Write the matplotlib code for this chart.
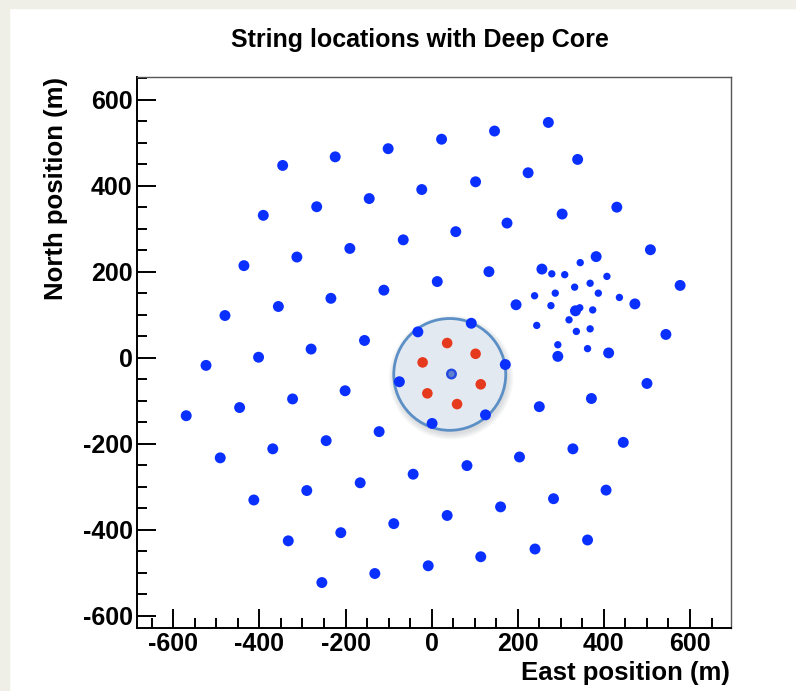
import matplotlib
matplotlib.use("Agg")
import matplotlib.pyplot as plt
from matplotlib.patches import Circle, Rectangle
from matplotlib.ticker import MultipleLocator

# Standard IceCube strings, east / north position in metres
string_x = [-346, -224, -101, -23, -145, -267, -391, -66, -190, -313, -436,
            13, -111, -234, -356, -480, -32, -156, -280, -402, -524,
            23, 146, 271, 339, 224, 102, 303, 430, 175, 56, 508,
            382, 256, 133, 577, 472, 196, 334, 92, 544, 293, 411,
            -570, -446, -323, -201, -75, 1, -491, -369, -245, -122,
            -413, -290, -166, -43, -333, -211, -88, -8, -255, -132,
            171, 125, 500, 371, 250, 445, 328, 204, 82, 405,
            283, 160, 36, 362, 240, 114]
string_y = [447, 467, 486, 391, 370, 351, 331, 274, 254, 234, 214,
            177, 157, 138, 119, 98, 60, 40, 20, 1, -18,
            508, 527, 547, 461, 430, 409, 334, 350, 313, 293, 251,
            235, 206, 200, 168, 125, 123, 109, 80, 54, 3, 11,
            -135, -116, -96, -77, -56, -153, -233, -212, -193, -172,
            -331, -309, -291, -271, -426, -407, -386, -484, -523, -502,
            -16, -133, -60, -95, -114, -197, -212, -231, -251, -308,
            -328, -347, -367, -424, -445, -463]

# central string of the array
center_x = [46]
center_y = [-38]

# Deep Core strings
deepcore_x = [36, 102, -21, 114, -10, 59]
deepcore_y = [34, 9, -11, -62, -83, -108]

# densely spaced infill strings
infill_x = [345, 279, 309, 407, 332, 368, 287, 387, 239, 436,
            277, 374, 344, 319, 244, 336, 368, 293, 362]
infill_y = [221, 195, 193, 189, 164, 173, 150, 150, 144, 140,
            121, 111, 116, 88, 75, 61, 67, 30, 21]

# Deep Core fiducial region
core_center = (42, -39)
core_radius = 130

plt.rcParams['font.family'] = ['Liberation Sans', 'DejaVu Sans']
plt.rcParams['font.weight'] = 'bold'
plt.rcParams['axes.unicode_minus'] = False

W, H = 796, 691
fig = plt.figure(figsize=(W / 100, H / 100), dpi=100)
fig.patch.set_facecolor('white')
beige = '#efefe7'
fig.patches.append(Rectangle((0, 0), 9 / W, 1, transform=fig.transFigure,
                             color=beige, zorder=0))
fig.patches.append(Rectangle((0, 1 - 8 / H), 1, 8 / H, transform=fig.transFigure,
                             color=beige, zorder=0))

ax = fig.add_axes([136.7 / W, 1 - 627.7 / H, 593.8 / W, 550.4 / H])
ax.set_xlim(-685, 694)
ax.set_ylim(-628, 652)

# soft drop shadow under the Deep Core disc
for k in range(6):
    ax.add_patch(Circle((core_center[0] + 3, core_center[1] - 7),
                        core_radius + 2 + 2.5 * k, facecolor='#808890',
                        edgecolor='none', alpha=0.05, zorder=1))
ax.add_patch(Circle(core_center, core_radius, facecolor='#e3e9f1',
                    edgecolor='#5b8fc5', linewidth=2.0, zorder=2))

blue = '#0a30ff'
ax.scatter(string_x, string_y, s=62, color=blue, edgecolors='none', zorder=3)
ax.scatter(infill_x, infill_y, s=28, color=blue, edgecolors='none', zorder=3)
ax.scatter(center_x, center_y, s=62, color='#2448e0', edgecolors='none', zorder=3)
ax.scatter(center_x, center_y, s=20, color='#6f8fc8', edgecolors='none',
           alpha=0.8, zorder=4)
ax.scatter(deepcore_x, deepcore_y, s=58, color='#e63a1f', edgecolors='none',
           zorder=3)

ax.xaxis.set_major_locator(MultipleLocator(200))
ax.xaxis.set_minor_locator(MultipleLocator(50))
ax.yaxis.set_major_locator(MultipleLocator(200))
ax.yaxis.set_minor_locator(MultipleLocator(50))
ax.tick_params(which='both', direction='in', top=False, right=False,
               width=1.4, color='black', labelsize=18, pad=3)
ax.tick_params(which='major', length=13.5)
ax.tick_params(which='minor', length=7)
for lab in ax.get_xticklabels() + ax.get_yticklabels():
    lab.set_fontweight('bold')

for side in ('left', 'bottom'):
    ax.spines[side].set_color('black')
    ax.spines[side].set_linewidth(1.4)
for side in ('top', 'right'):
    ax.spines[side].set_color('#555555')
    ax.spines[side].set_linewidth(1.0)

fig.text(420 / W, 1 - 47.3 / H, 'String locations with Deep Core',
         ha='center', va='baseline', fontsize=18, fontweight='bold')
fig.text(730 / W, 1 - 680 / H, 'East position (m)', ha='right',
         va='baseline', fontsize=18.5, fontweight='bold')
fig.text(63 / W, 1 - 77 / H, 'North position (m)', rotation=90,
         rotation_mode='anchor', ha='right', va='baseline',
         fontsize=18.5, fontweight='bold')

fig.savefig('out.png', dpi=100)
